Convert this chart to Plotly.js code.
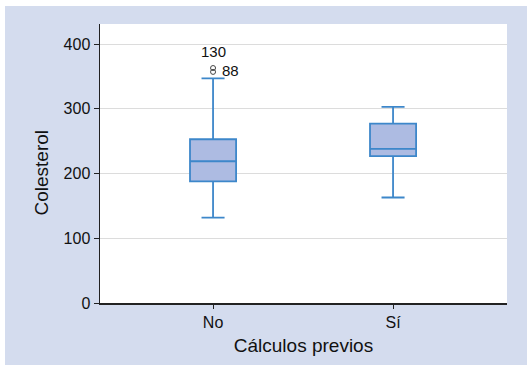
<!DOCTYPE html>
<html>
<head>
<meta charset="utf-8">
<script src="https://cdn.plot.ly/plotly-3.0.1.min.js"></script>
<style>
html, body { margin: 0; padding: 0; background: #ffffff; width: 527px; height: 365px; overflow: hidden; }
#chart { position: absolute; left: 5px; top: 6px; width: 522px; height: 359px; }
</style>
</head>
<body>
<div id="chart"></div>
<script>
var categories = ['No', 'Sí'];
var q1Values = [188, 227];
var medianValues = [219, 238];
var q3Values = [253, 277];
var lowerWhisker = [132, 163];
var upperWhisker = [347, 303];
var outlierCategory = ['No', 'No'];
var outlierValues = [363, 357];
var outlierLabels = ['130', '88'];
var yTickValues = [0, 100, 200, 300, 400];
var xTitle = 'Cálculos previos';
var yTitle = 'Colesterol';

var boxTrace = {
  type: 'box',
  x: categories,
  q1: q1Values,
  median: medianValues,
  q3: q3Values,
  lowerfence: lowerWhisker,
  upperfence: upperWhisker,
  width: 0.256,
  whiskerwidth: 0.5,
  boxpoints: false,
  fillcolor: '#adbbe2',
  line: { color: '#3d87ca', width: 1.8 },
  hoverinfo: 'skip',
  showlegend: false
};

var outlierTrace = {
  type: 'scatter',
  mode: 'markers',
  x: outlierCategory,
  y: outlierValues,
  marker: { symbol: 'circle-open', size: 5, color: '#444', line: { width: 1, color: '#444' } },
  cliponaxis: false,
  hoverinfo: 'skip',
  showlegend: false
};

var labelStyle = [
  { xanchor: 'center', yanchor: 'middle', xshift: 0, yshift: 17 },
  { xanchor: 'left', yanchor: 'middle', xshift: 7, yshift: 1 }
];
var annotations = outlierLabels.map(function (t, i) {
  return {
    x: outlierCategory[i], y: outlierValues[i], xref: 'x', yref: 'y',
    text: t, showarrow: false,
    xanchor: labelStyle[i].xanchor, yanchor: labelStyle[i].yanchor,
    xshift: labelStyle[i].xshift, yshift: labelStyle[i].yshift,
    font: { family: 'Liberation Sans, Arial, sans-serif', size: 15, color: '#111' }
  };
});
annotations.push({
  xref: 'paper', yref: 'paper', x: -0.1425, y: 0.4677,
  xanchor: 'center', yanchor: 'middle', textangle: -90,
  text: yTitle, showarrow: false,
  font: { family: 'Liberation Sans, Arial, sans-serif', size: 19, color: '#111' }
});

var layout = {
  width: 522,
  height: 359,
  paper_bgcolor: '#d4dcee',
  plot_bgcolor: '#ffffff',
  margin: { l: 95, r: 20, t: 18, b: 62 },
  font: { family: 'Liberation Sans, Arial, sans-serif', color: '#111', size: 16 },
  showlegend: false,
  annotations: annotations,
  xaxis: {
    type: 'category',
    range: [-0.628, 1.633],
    showgrid: false,
    showline: true,
    linecolor: '#222',
    linewidth: 2,
    ticks: 'outside',
    ticklen: 4,
    tickcolor: '#222',
    tickfont: { size: 16, color: '#111' },
    title: { text: xTitle, font: { size: 19, color: '#111' }, standoff: 8 },
    automargin: false,
    zeroline: false
  },
  yaxis: {
    range: [0, 431],
    tickvals: yTickValues,
    showgrid: true,
    gridcolor: '#dcdcdc',
    gridwidth: 1,
    showline: true,
    linecolor: '#222',
    linewidth: 1.5,
    ticks: 'outside',
    ticklen: 5,
    tickcolor: '#222',
    tickfont: { size: 16, color: '#111' },
    automargin: false,
    zeroline: false
  }
};

Plotly.newPlot('chart', [boxTrace, outlierTrace], layout, { displayModeBar: false, staticPlot: true });
</script>
</body>
</html>
